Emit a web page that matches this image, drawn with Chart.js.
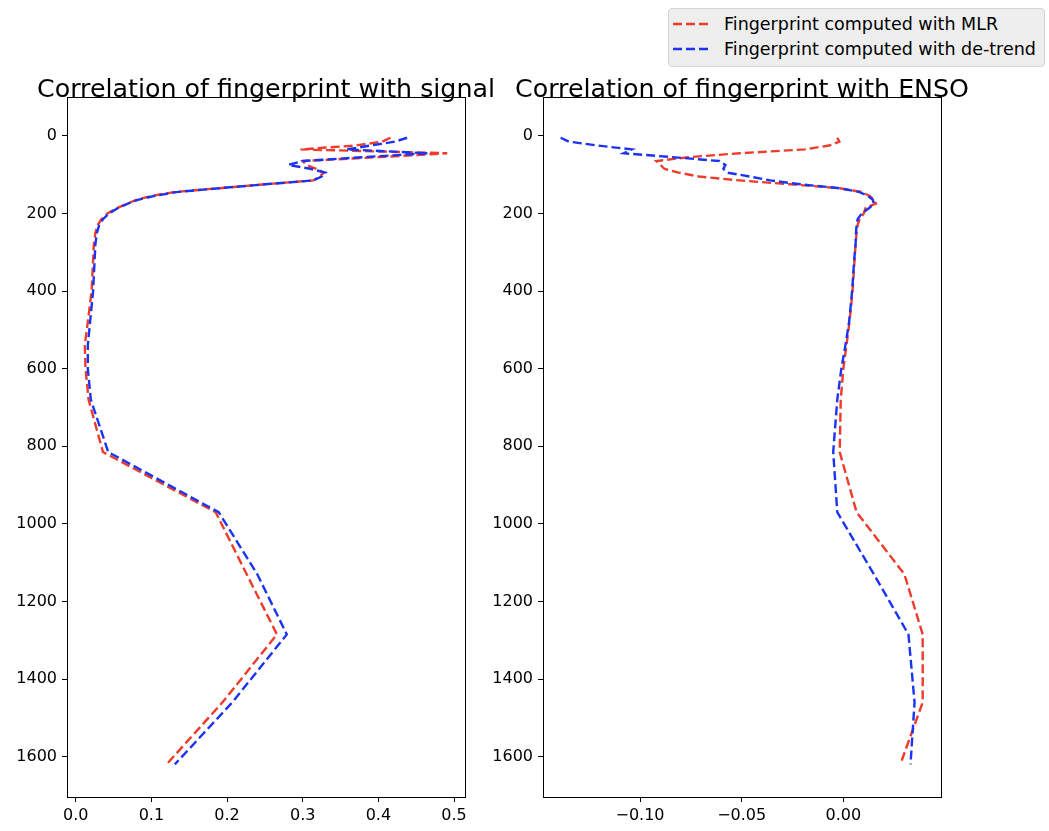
<!DOCTYPE html>
<html>
<head>
<meta charset="utf-8">
<script src="https://cdn.jsdelivr.net/npm/chart.js@4"></script>
<style>
  body { margin: 0; background: #fff; font-family: "DejaVu Sans", sans-serif; }
  #wrap { position: relative; width: 1049px; height: 831px; overflow: hidden; }
  canvas { position: absolute; top: 0; }
  .title { position: absolute; top: 74px; font-size: 25.3px; color: #000; white-space: nowrap; transform: translateX(-50%); }
  #legend { position: absolute; left: 668px; top: 8px; width: 377px; height: 59px; background: #eeeeee;
            border: 1px solid #d4d4d4; border-radius: 4px; box-sizing: border-box; font-size: 17.5px; }
  .row { position: absolute; left: 4px; height: 22px; display: flex; align-items: center; }
  .row span { margin-left: 13px; }
</style>
</head>
<body>
<div id="wrap">
  <canvas id="left" width="490" height="831" style="left:0"></canvas>
  <canvas id="right" width="569" height="831" style="left:480px"></canvas>
  <div class="title" style="left:266px">Correlation of fingerprint with signal</div>
  <div class="title" style="left:742px">Correlation of fingerprint with ENSO</div>
  <div id="legend">
    <div class="row" style="top:4px"><svg width="38" height="4"><line x1="0" y1="2" x2="38" y2="2" stroke="#ee3b2b" stroke-width="2.4" stroke-dasharray="9,4"/></svg><span>Fingerprint computed with MLR</span></div>
    <div class="row" style="top:29px"><svg width="38" height="4"><line x1="0" y1="2" x2="38" y2="2" stroke="#1c33f2" stroke-width="2.4" stroke-dasharray="9,4"/></svg><span>Fingerprint computed with de-trend</span></div>
  </div>
</div>
<script>
// depth levels (m)
const depth = [5, 15, 25, 35, 45, 55, 65, 75, 85, 95, 105, 115, 125, 135, 145, 155, 165, 175, 185,
               200, 215, 230, 250, 280, 320, 400, 480, 540, 600, 680, 815, 970, 1130, 1285, 1460, 1620];

// correlation with signal
const signalMLR = [0.416, 0.405, 0.37, 0.297, 0.491, 0.40, 0.30, 0.305, 0.318, 0.328, 0.322, 0.314, 0.25, 0.19,
                   0.13, 0.10, 0.08, 0.068, 0.056, 0.042, 0.034, 0.029, 0.026, 0.024, 0.023, 0.021, 0.016,
                   0.012, 0.013, 0.017, 0.036, 0.185, 0.226, 0.266, 0.194, 0.120];
const signalDetrend = [0.438, 0.422, 0.39, 0.358, 0.465, 0.38, 0.30, 0.281, 0.31, 0.33, 0.325, 0.314, 0.25, 0.19,
                       0.133, 0.104, 0.082, 0.069, 0.057, 0.044, 0.036, 0.031, 0.028, 0.026, 0.025, 0.023, 0.019,
                       0.016, 0.016, 0.02, 0.043, 0.189, 0.24, 0.279, 0.207, 0.131];

// correlation with ENSO
const ensoMLR = [-0.003, -0.002, -0.007, -0.019, -0.051, -0.076, -0.092, -0.090, -0.088, -0.081, -0.071, -0.051,
                 -0.026, -0.002, 0.009, 0.013, 0.015, 0.016, 0.011, 0.010, 0.008, 0.007, 0.0065, 0.006, 0.0055,
                 0.0045, 0.003, 0.0015, 0.0, -0.0013, -0.0018, 0.0065, 0.030, 0.039, 0.039, 0.028];
const ensoDetrend = [-0.139, -0.135, -0.121, -0.104, -0.108, -0.084, -0.061, -0.058, -0.059, -0.057, -0.046, -0.036,
                     -0.021, -0.002, 0.008, 0.012, 0.0145, 0.015, 0.013, 0.009, 0.007, 0.0065, 0.0062, 0.006,
                     0.0053, 0.0043, 0.0028, 0.001, -0.001, -0.003, -0.005, -0.003, 0.015, 0.032, 0.035, 0.033];

const yTicks = [0, 200, 400, 600, 800, 1000, 1200, 1400, 1600];
const xTicksSignal = [0, 0.1, 0.2, 0.3, 0.4, 0.5];
const xTicksEnso = [-0.10, -0.05, 0.00];

const RED = '#ee3b2b';
const BLUE = '#1c33f2';
const FONT = { family: 'DejaVu Sans', size: 16 };

const boxPlugin = {
  id: 'box',
  afterDraw(chart) {
    const { ctx, chartArea: a } = chart;
    ctx.save();
    ctx.strokeStyle = '#000';
    ctx.lineWidth = 1;
    ctx.strokeRect(Math.round(a.left) + 0.5, Math.round(a.top) + 0.5,
                   Math.round(a.right - a.left), Math.round(a.bottom - a.top));
    ctx.restore();
  }
};

function series(xs) {
  return xs.map((v, i) => ({ x: v, y: depth[i] }));
}

function makeChart(id, mlr, det, xMin, xMax, xTicks, fmt, yWidth, padRight) {
  new Chart(document.getElementById(id), {
    type: 'scatter',
    data: {
      datasets: [
        { label: 'Fingerprint computed with MLR', data: series(mlr), borderColor: RED, order: 2 },
        { label: 'Fingerprint computed with de-trend', data: series(det), borderColor: BLUE, order: 1 }
      ].map(d => Object.assign(d, {
        showLine: true, pointRadius: 0, borderWidth: 2.4, borderDash: [9, 4], tension: 0, fill: false
      }))
    },
    options: {
      responsive: false,
      animation: false,
      layout: { padding: { top: 97, right: padRight, bottom: 0, left: 0 } },
      plugins: { legend: { display: false }, tooltip: { enabled: false } },
      scales: {
        x: {
          type: 'linear', min: xMin, max: xMax,
          afterBuildTicks: s => { s.ticks = xTicks.map(v => ({ value: v })); },
          afterFit: s => { s.height = 34; },
          grid: { drawOnChartArea: false, drawTicks: true, tickLength: 5, color: '#000' },
          border: { display: false },
          ticks: { color: '#000', font: FONT, padding: 4, maxRotation: 0, callback: fmt }
        },
        y: {
          type: 'linear', reverse: true, min: -100, max: 1704,
          afterBuildTicks: s => { s.ticks = yTicks.map(v => ({ value: v })); },
          afterFit: s => { s.width = yWidth; },
          grid: { drawOnChartArea: false, drawTicks: true, tickLength: 5, color: '#000' },
          border: { display: false },
          ticks: { color: '#000', font: FONT, padding: 5, callback: v => String(v) }
        }
      }
    },
    plugins: [boxPlugin]
  });
}

makeChart('left', signalMLR, signalDetrend, -0.0115, 0.5145, xTicksSignal,
          v => v.toFixed(1), 67, 25);
makeChart('right', ensoMLR, ensoDetrend, -0.1477, 0.048, xTicksEnso,
          v => (v < 0 ? '\u2212' : '') + Math.abs(v).toFixed(2), 63, 108);
</script>
</body>
</html>
